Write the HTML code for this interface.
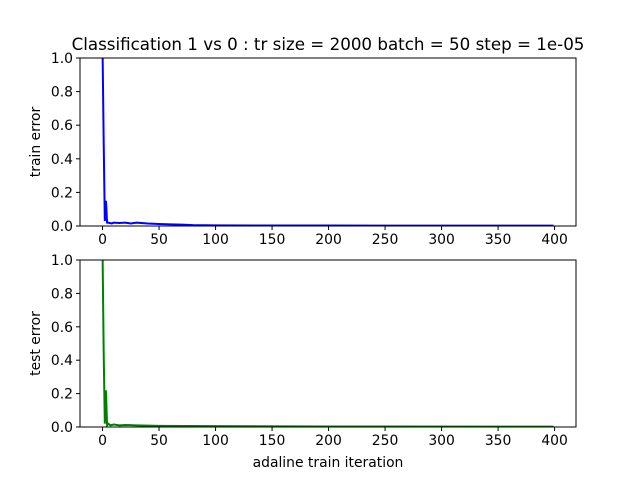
<!DOCTYPE html>
<html><head><meta charset="utf-8"><style>
body{margin:0;background:#fff;}
svg text{font-family:"DejaVu Sans","Liberation Sans",sans-serif;fill:#000;}
</style></head><body>
<svg id="chart" width="640" height="480" xmlns="http://www.w3.org/2000/svg">
<rect width="640" height="480" fill="#fff"/>
<text x="328" y="50" font-size="16.7" text-anchor="middle">Classification 1 vs 0 : tr size = 2000 batch = 50 step = 1e-05</text>
<g id="top"></g>
<g id="bot"></g>
<text x="328" y="467" font-size="13.9" text-anchor="middle">adaline train iteration</text>
</svg>
<script>
const xTicks=[0,50,100,150,200,250,300,350,400];
const yTicks=[0.0,0.2,0.4,0.6,0.8,1.0];
const trainIter=[0,1,2,3,4,5,8,10,15,20,25,30,40,50,60,70,80,100,150,200,300,399];
const trainErr=[1.05,0.5,0.03,0.15,0.02,0.02,0.015,0.02,0.018,0.02,0.015,0.02,0.015,0.012,0.01,0.008,0.005,0.004,0.003,0.003,0.002,0.002];
const testIter=[0,1,2,3,4,5,7,10,15,20,30,50,100,200,399];
const testErr=[1.05,0.45,0.02,0.22,0.01,0.02,0.01,0.015,0.01,0.012,0.01,0.007,0.005,0.003,0.002];
const NS="http://www.w3.org/2000/svg";
const L=80,R=576,xmin=-19.95,xmax=418.95;
function sx(v){return L+(v-xmin)/(xmax-xmin)*(R-L);}
function mk(t,a,p){const e=document.createElementNS(NS,t);for(const k in a)e.setAttribute(k,a[k]);p.appendChild(e);return e;}
function panel(g,top,bottom,iters,vals,color,label,pre){
  const sy=v=>bottom-v*(bottom-top);
  const cid=pre+'clip';
  const cp=mk('clipPath',{id:cid},g);mk('rect',{x:L,y:top,width:R-L,height:bottom-top},cp);
  let d='';iters.forEach((it,i)=>{d+=(i?'L':'M')+sx(it).toFixed(2)+' '+sy(vals[i]).toFixed(2);});
  const line=mk('path',{d:d,fill:'none',stroke:color,'stroke-width':2,'clip-path':'url(#'+cid+')'},g);
  
  
  const fr=mk('rect',{x:L,y:top,width:R-L,height:bottom-top,fill:'none',stroke:'#000','stroke-width':1},g);
  
  
  xTicks.forEach(t=>{const x=sx(t);mk('line',{x1:x,x2:x,y1:bottom,y2:bottom+4,stroke:'#000'},g);
    const tx=mk('text',{x:x,y:bottom+18,'font-size':13.9,'text-anchor':'middle'},g);tx.textContent=t;
    
    });
  yTicks.forEach(t=>{const y=sy(t);mk('line',{x1:L-4,x2:L,y1:y,y2:y,stroke:'#000'},g);
    const tx=mk('text',{x:L-7,y:y+5,'font-size':13.9,'text-anchor':'end'},g);tx.textContent=t.toFixed(1);
    
    });
  const yl=mk('text',{x:0,y:0,'font-size':13.9,'text-anchor':'middle',transform:'translate(40,'+((top+bottom)/2)+') rotate(-90)'},g);
  yl.textContent=label;
  
  
}
panel(document.getElementById('top'),58,226,trainIter,trainErr,'#0000ff','train error','train');
panel(document.getElementById('bot'),260,427,testIter,testErr,'#008000','test error','test');
</script>
</body></html>
